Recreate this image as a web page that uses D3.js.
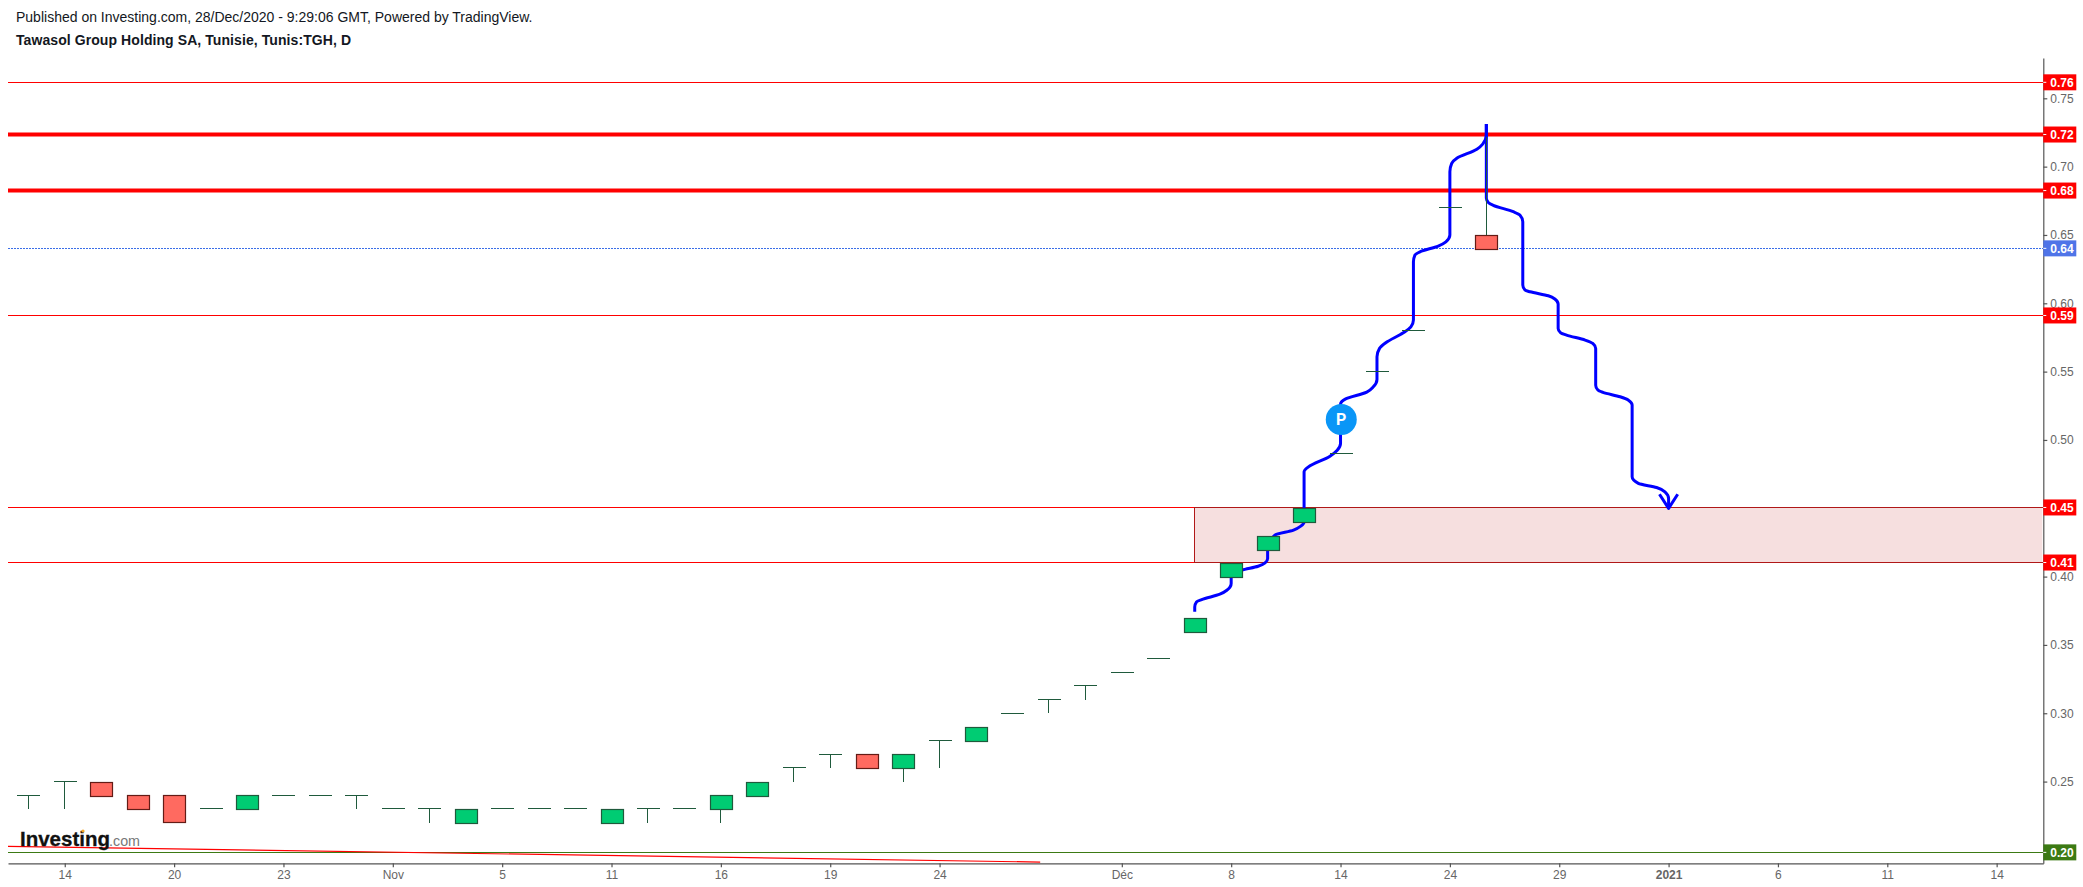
<!DOCTYPE html>
<html>
<head>
<meta charset="utf-8">
<title>Tawasol Group Holding SA</title>
<script src="https://cdn.jsdelivr.net/npm/d3@7"></script>
<style>
  html, body { margin: 0; padding: 0; background: #fff; }
  svg { display: block; font-family: "Liberation Sans", Arial, sans-serif; }
</style>
</head>
<body>
<svg id="chart" width="2083" height="887"></svg>
<script>
// daily bars (x position is the bar number)
var opens  = [.24,.25,.25,.24,.24,.23,.23,.24,.24,.24,.23,.23,.22,.23,.23,.23,.22,.23,.23,.23,.24,.26,.27,.27,.26,.28,.28,.30,.31,.32,.33,.34,.36,.40,.42,.44,.49,.55,.58,.67,.65];
var highs  = [.24,.25,.25,.24,.24,.23,.24,.24,.24,.24,.23,.23,.23,.23,.23,.23,.23,.23,.23,.24,.25,.26,.27,.27,.27,.28,.29,.30,.31,.32,.33,.34,.37,.41,.43,.45,.49,.55,.58,.67,.7215];
var lows   = [.23,.23,.24,.23,.22,.23,.23,.24,.24,.23,.23,.22,.22,.23,.23,.23,.22,.22,.23,.22,.24,.25,.26,.26,.25,.26,.28,.30,.30,.31,.33,.34,.36,.40,.42,.44,.49,.55,.58,.67,.64];
var closes = [.24,.25,.24,.23,.22,.23,.24,.24,.24,.24,.23,.23,.23,.23,.23,.23,.23,.23,.23,.24,.25,.26,.27,.26,.27,.28,.29,.30,.31,.32,.33,.34,.37,.41,.43,.45,.49,.55,.58,.67,.64];

// axis ticks
var dateTickBars   = [1, 4, 7, 10, 13, 16, 19, 22, 25, 30, 33, 36, 39, 42, 45, 48, 51, 54];
var dateTickLabels = ["14", "20", "23", "Nov", "5", "11", "16", "19", "24", "Déc", "8", "14", "24", "29", "2021", "6", "11", "14"];
var priceTicks     = [.25, .30, .35, .40, .45, .50, .55, .60, .65, .70, .75];

// horizontal levels drawn on the chart
var levelPrices = [.7617, .7235, .6825, .5911, .4506, .4103, .1982];
var levelLabels = ["0.76", "0.72", "0.68", "0.59", "0.45", "0.41", "0.20"];
var levelColors = ["#ff0000", "#ff0000", "#ff0000", "#ff0000", "#ff0000", "#ff0000", "#3c7a14"];
var levelWidths = [1, 4, 4, 1, 1, 1, 1];

// last price
var lastPrice = .6402;
var lastLabel = "0.64";

// the shaded zone
var zoneStartBar = 32;
var zoneTop = .4506;
var zoneBottom = .4103;

// falling trend line at the bottom
var trendBars   = [-0.557, 27.76];
var trendPrices = [.2026, .1911];

// hand drawn blue path: bar number / price pairs
var penUpBars = [32,32,32.05,32.19,32.69,32.88,33,33,33.29,33.74,33.93,34,34,34.2,34.71,34.91,35,35,35,35.12,35.71,35.91,36,36,36,36.13,36.72,36.9,37,37,37.07,37.24,37.72,37.93,38,38,38.04,38.18,38.68,38.89,39,39,39.05,39.19,39.74,39.9,40,40];
var penUpPrices = [.3742,.3778,.3815,.3832,.3871,.39,.395,.4,.4047,.4076,.41,.4133,.4208,.4303,.434,.4369,.44,.4506,.4767,.4803,.4881,.4925,.4974,.5035,.5262,.5299,.535,.5389,.5443,.5608,.567,.5711,.5784,.5828,.5877,.6304,.6353,.6377,.6419,.645,.6499,.6963,.7024,.7061,.7127,.7165,.7231,.7312];
var penDownBars = [40,40,40.06,40.19,40.74,40.92,41,41,41.06,41.2,41.7,41.88,41.97,41.97,42.04,42.2,42.71,42.92,43,43,43.06,43.2,43.67,43.9,44,44,44.17,44.67,44.9,45,45];
var penDownPrices = [.7312,.6768,.6736,.6717,.667,.6646,.6597,.6133,.6097,.6084,.6055,.6031,.5994,.5816,.5784,.5767,.5731,.5706,.567,.5401,.5365,.5348,.5316,.5291,.5255,.473,.4682,.4652,.462,.4572,.4499];
var arrowBars = [44.75, 45, 45.25];
var arrowPrices = [.4603, .4499, .4603];

// the round "P" marker
var markerBar = 36.02;
var markerPrice = .515;

var svg = d3.select("#chart");

// bar numbers and prices to pixels
var x = d3.scaleLinear().domain([-0.557, 55.28]).range([8, 2043.3]);
var y = d3.scaleLinear().domain([.1902, .7795]).range([863.3, 58]);

// heading
svg.append("text").attr("x", 16).attr("y", 22)
  .attr("font-size", 14).attr("fill", "#131722")
  .text("Published on Investing.com, 28/Dec/2020 - 9:29:06 GMT, Powered by TradingView.");
svg.append("text").attr("x", 16).attr("y", 45)
  .attr("font-size", 14).attr("font-weight", "bold").attr("letter-spacing", 0.08).attr("fill", "#131722")
  .text("Tawasol Group Holding SA, Tunisie, Tunis:TGH, D");

// shaded zone
svg.append("rect")
  .attr("x", x(zoneStartBar))
  .attr("y", y(zoneTop))
  .attr("width", x.range()[1] - x(zoneStartBar) - 1)
  .attr("height", y(zoneBottom) - y(zoneTop))
  .attr("fill", "#f6dfdf");

// levels
svg.selectAll("line.level")
  .data(levelPrices)
  .enter().append("line")
  .attr("class", "level")
  .attr("x1", x.range()[0])
  .attr("x2", x.range()[1])
  .attr("y1", function (d) { return y(d); })
  .attr("y2", function (d) { return y(d); })
  .attr("stroke", function (d, i) { return levelColors[i]; })
  .attr("stroke-width", function (d, i) { return levelWidths[i]; })
  .attr("shape-rendering", function (d, i) { return levelWidths[i] == 1 ? "crispEdges" : "auto"; });

// zone outline sits on top of the red levels and is darker
var zonePath = d3.path();
zonePath.moveTo(x.range()[1], y(zoneTop));
zonePath.lineTo(x(zoneStartBar), y(zoneTop));
zonePath.lineTo(x(zoneStartBar), y(zoneBottom));
zonePath.lineTo(x.range()[1], y(zoneBottom));
svg.append("path")
  .attr("d", zonePath.toString())
  .attr("fill", "none")
  .attr("stroke", "#b01818")
  .attr("stroke-width", 1)
  .attr("shape-rendering", "crispEdges");

// last price dotted line
svg.append("line")
  .attr("x1", x.range()[0]).attr("x2", x.range()[1])
  .attr("y1", y(lastPrice)).attr("y2", y(lastPrice))
  .attr("stroke", "#3a6ee8")
  .attr("stroke-width", 1)
  .attr("stroke-dasharray", "2 1")
  .attr("shape-rendering", "crispEdges");

// trend line
svg.append("line")
  .attr("x1", x(trendBars[0])).attr("x2", x(trendBars[1]))
  .attr("y1", y(trendPrices[0])).attr("y2", y(trendPrices[1]))
  .attr("stroke", "#ff0000")
  .attr("stroke-width", 1.2);

// logo
var logo = svg.append("g");
logo.append("text").attr("x", 20).attr("y", 846)
  .attr("font-size", 21).attr("font-weight", "bold").attr("fill", "#111")
  .attr("stroke", "#111").attr("stroke-width", 0.3)
  .attr("textLength", 90).attr("lengthAdjust", "spacingAndGlyphs")
  .text("Investing");
logo.append("text").attr("x", 109).attr("y", 846)
  .attr("font-size", 14).attr("fill", "#777")
  .attr("textLength", 31).attr("lengthAdjust", "spacingAndGlyphs")
  .text(".com");
logo.append("circle").attr("cx", 83).attr("cy", 831).attr("r", 1.6).attr("fill", "#f5a623");

// hand drawn path, monotone so the long vertical strokes stay straight
var penLine = d3.line()
  .x(function (d) { return x(d[0]); })
  .y(function (d) { return y(d[1]); })
  .curve(d3.curveMonotoneY);
var straightLine = d3.line()
  .x(function (d) { return x(d[0]); })
  .y(function (d) { return y(d[1]); });

var penStyle = function (sel) {
  sel.attr("fill", "none")
    .attr("stroke", "#0000ff")
    .attr("stroke-width", 3)
    .attr("stroke-linejoin", "round");
};
svg.append("path").attr("d", penLine(d3.zip(penUpBars, penUpPrices))).call(penStyle);
svg.append("path").attr("d", penLine(d3.zip(penDownBars, penDownPrices))).call(penStyle);
svg.append("path").attr("d", straightLine(d3.zip(arrowBars, arrowPrices))).call(penStyle);

// marker
svg.append("circle")
  .attr("cx", x(markerBar)).attr("cy", y(markerPrice)).attr("r", 15.5)
  .attr("fill", "#0a96f7");
svg.append("text")
  .attr("x", x(markerBar)).attr("y", y(markerPrice) + 5.5)
  .attr("text-anchor", "middle")
  .attr("font-family", "Roboto, sans-serif")
  .attr("font-size", 16).attr("font-weight", "bold").attr("fill", "#fff")
  .text("P");

// candles: wick, then the body, or a flat dash when open equals close
var barWidth = 22;
svg.selectAll("line.wick")
  .data(opens)
  .enter().append("line")
  .attr("class", "wick")
  .attr("x1", function (d, i) { return x(i); })
  .attr("x2", function (d, i) { return x(i); })
  .attr("y1", function (d, i) { return y(highs[i]); })
  .attr("y2", function (d, i) { return y(lows[i]); })
  .attr("stroke", "#1f5a3c")
  .attr("stroke-width", 1)
  .attr("shape-rendering", "crispEdges");

svg.selectAll("line.doji")
  .data(d3.range(opens.length).filter(function (i) { return opens[i] == closes[i]; }))
  .enter().append("line")
  .attr("class", "doji")
  .attr("x1", function (i) { return x(i) - barWidth / 2; })
  .attr("x2", function (i) { return x(i) + barWidth / 2 + 1; })
  .attr("y1", function (i) { return y(opens[i]); })
  .attr("y2", function (i) { return y(opens[i]); })
  .attr("stroke", "#1f5a3c")
  .attr("stroke-width", 1)
  .attr("shape-rendering", "crispEdges");

var bodyBars = d3.range(opens.length).filter(function (i) { return opens[i] != closes[i]; });
svg.selectAll("rect.body")
  .data(bodyBars)
  .enter().append("rect")
  .attr("class", "body")
  .attr("x", function (i) { return Math.round(x(i) - barWidth / 2) + 0.5; })
  .attr("y", function (i) { return Math.round(y(Math.max(opens[i], closes[i]))) + 0.5; })
  .attr("width", barWidth)
  .attr("height", function (i) { return Math.round(Math.abs(y(opens[i]) - y(closes[i]))); })
  .attr("fill", function (i) { return closes[i] < opens[i] ? "#ff6a60" : "#00cc73"; })
  .attr("stroke", function (i) { return closes[i] < opens[i] ? "#631c16" : "#1f5a3c"; })
  .attr("stroke-width", 1.2);

// axes
var bottomAxis = d3.axisBottom(x)
  .tickValues(dateTickBars)
  .tickFormat(function (d, i) { return dateTickLabels[i]; })
  .tickSize(4)
  .tickSizeOuter(0)
  .tickPadding(3);
var gx = svg.append("g")
  .attr("transform", "translate(0," + y.range()[0] + ")")
  .call(bottomAxis);

var rightAxis = d3.axisRight(y)
  .tickValues(priceTicks)
  .tickFormat(d3.format(".2f"))
  .tickSize(4)
  .tickSizeOuter(0)
  .tickPadding(3);
var gy = svg.append("g")
  .attr("transform", "translate(" + x.range()[1] + ",0)")
  .call(rightAxis);

[gx, gy].forEach(function (g) {
  g.attr("font-family", "Liberation Sans, Arial, sans-serif").attr("font-size", 12);
  g.selectAll("path, line").attr("stroke", "#555").attr("stroke-width", 1.2);
  g.selectAll("text").attr("fill", "#666");
});
gx.selectAll("text").filter(function (d, i) { return dateTickLabels[i] == "2021"; })
  .attr("font-weight", "bold");

// price tags on the right edge
function priceTag(price, label, color) {
  svg.append("rect")
    .attr("x", x.range()[1])
    .attr("y", y(price) - 8)
    .attr("width", 33)
    .attr("height", 16)
    .attr("fill", color);
  svg.append("line")
    .attr("x1", x.range()[1]).attr("x2", x.range()[1] + 3)
    .attr("y1", y(price)).attr("y2", y(price))
    .attr("stroke", "#fff").attr("stroke-width", 1);
  svg.append("text")
    .attr("x", x.range()[1] + 7)
    .attr("y", y(price) + 4.5)
    .attr("font-size", 12).attr("font-weight", "bold").attr("fill", "#fff")
    .text(label);
}
levelPrices.forEach(function (p, i) { priceTag(p, levelLabels[i], levelColors[i]); });
priceTag(lastPrice, lastLabel, "#4f74e8");
</script>
</body>
</html>
